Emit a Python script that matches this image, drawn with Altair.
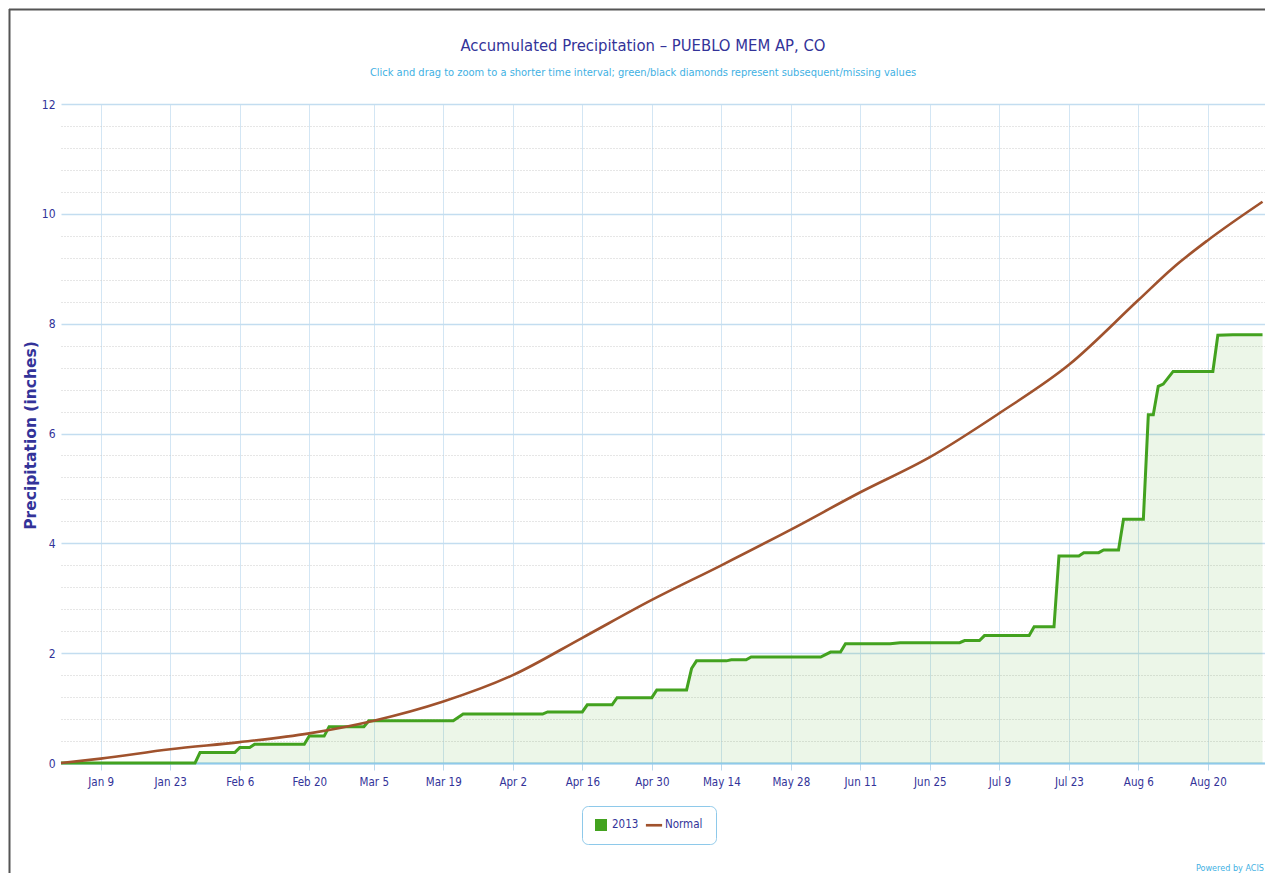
import altair as alt
import pandas as pd

# ---------------- data ----------------
obs_dates = ["2013-01-01", "2013-01-28", "2013-01-29", "2013-02-05", "2013-02-06",
             "2013-02-08", "2013-02-09", "2013-02-19", "2013-02-20", "2013-02-23",
             "2013-02-24", "2013-03-03", "2013-03-04", "2013-03-21", "2013-03-23",
             "2013-04-08", "2013-04-09", "2013-04-16", "2013-04-17", "2013-04-22",
             "2013-04-23", "2013-04-30", "2013-05-01", "2013-05-07", "2013-05-08",
             "2013-05-09", "2013-05-15", "2013-05-16", "2013-05-19", "2013-05-20",
             "2013-06-03", "2013-06-05", "2013-06-07", "2013-06-08", "2013-06-17",
             "2013-06-19", "2013-07-01", "2013-07-02", "2013-07-05", "2013-07-06",
             "2013-07-15", "2013-07-16", "2013-07-20", "2013-07-21", "2013-07-25",
             "2013-07-26", "2013-07-29", "2013-07-30", "2013-08-02", "2013-08-03",
             "2013-08-07", "2013-08-08", "2013-08-09", "2013-08-10", "2013-08-11",
             "2013-08-13", "2013-08-21", "2013-08-22", "2013-08-25", "2013-08-31"]
obs_values = [0.00, 0.00, 0.19, 0.19, 0.28,
              0.28, 0.34, 0.34, 0.49, 0.49,
              0.66, 0.66, 0.77, 0.77, 0.89,
              0.89, 0.93, 0.93, 1.06, 1.06,
              1.19, 1.19, 1.33, 1.33, 1.72,
              1.86, 1.86, 1.88, 1.88, 1.93,
              1.93, 2.02, 2.02, 2.17, 2.17,
              2.19, 2.19, 2.23, 2.23, 2.32,
              2.32, 2.48, 2.48, 3.77, 3.77,
              3.83, 3.83, 3.88, 3.88, 4.44,
              4.44, 6.34, 6.34, 6.86, 6.90,
              7.13, 7.13, 7.79, 7.80, 7.80]

normal_dates = ["2013-01-01", "2013-01-09", "2013-01-23", "2013-02-06", "2013-02-20",
                "2013-03-05", "2013-03-19", "2013-04-02", "2013-04-16", "2013-04-30",
                "2013-05-14", "2013-05-28", "2013-06-11", "2013-06-25", "2013-07-09",
                "2013-07-23", "2013-08-06", "2013-08-13", "2013-08-20", "2013-08-31"]
normal_values = [0.00, 0.08, 0.25, 0.38, 0.54,
                 0.77, 1.12, 1.60, 2.28, 2.97,
                 3.60, 4.25, 4.93, 5.57, 6.37,
                 7.25, 8.43, 9.02, 9.52, 10.22]

series_names = ["2013", "Normal"]
series_colors = ["#43a21f", "#a0522d"]

x_tick_dates = ["2013-01-09", "2013-01-23", "2013-02-06", "2013-02-20", "2013-03-05",
                "2013-03-19", "2013-04-02", "2013-04-16", "2013-04-30", "2013-05-14",
                "2013-05-28", "2013-06-11", "2013-06-25", "2013-07-09", "2013-07-23",
                "2013-08-06", "2013-08-20"]
x_domain = [(2013, 1, 1, 0), (2013, 8, 31, 12)]
y_tick_values = [round(0.4 * i, 1) for i in range(31)]

# ---------------- styling ----------------
NARROW = "'Liberation Sans Narrow', 'DejaVu Sans Condensed', 'Roboto Condensed', sans-serif"
NAVY = "#333399"
LIGHTBLUE = "#3fb1e3"


def dt(s):
    y, m, d = (int(v) for v in s.split("-"))
    return alt.DateTime(year=y, month=m, date=d, utc=True)


def dth(t):
    return alt.DateTime(year=t[0], month=t[1], date=t[2], hours=t[3], utc=True)


obs = pd.DataFrame({"date": obs_dates, "value": obs_values})
normal = pd.DataFrame({"date": normal_dates, "value": normal_values})
legend_df = pd.DataFrame({"series": series_names})

major = "datum.value % 2 == 0"

x_enc = alt.X(
    "date:T",
    scale=alt.Scale(type="utc", domain=[dth(t) for t in x_domain]),
    axis=alt.Axis(
        values=[dt(s) for s in x_tick_dates],
        tickCount=40,
        labelExpr="utcFormat(datum.value, '%b %-d')",
        title=None,
        grid=True,
        gridColor="#d3e6f4",
        gridWidth=1,
        domainColor="#8ec9ea",
        domainWidth=2,
        tickColor="#b9d9ef",
        tickSize=7,
        labelPadding=6,
        labelFont=NARROW,
        labelFontSize=11.5,
        labelColor=NAVY,
        labelFlush=False,
    ),
)

y_enc = alt.Y(
    "value:Q",
    scale=alt.Scale(domain=[0, 12], nice=False),
    axis=alt.Axis(
        values=y_tick_values,
        tickCount=40,
        labelExpr=f"{major} ? format(datum.value, 'd') : ''",
        labelOverlap=False,
        title="Precipitation (inches)",
        titleFont="DejaVu Sans",
        titleFontWeight="bold",
        titleFontSize=15.5,
        titleColor=NAVY,
        titleX=-31,
        titleY=331,
        titleAngle=270,
        titleAlign="center",
        titleBaseline="middle",
        grid=True,
        gridColor={"condition": {"test": major, "value": "#c3ddf0"}, "value": "#cccccc"},
        gridWidth={"condition": {"test": major, "value": 1.6}, "value": 1},
        gridDash={"condition": {"test": major, "value": []}, "value": [1, 2]},
        domain=False,
        ticks=False,
        labelPadding=6,
        labelFont=NARROW,
        labelFontSize=12,
        labelColor=NAVY,
        labelFlush=False,
    ),
)

area = alt.Chart(obs).mark_area(color=series_colors[0], opacity=0.1).encode(x=x_enc, y=y_enc)
obs_line = alt.Chart(obs).mark_line(color=series_colors[0], strokeWidth=3).encode(x="date:T", y="value:Q")
normal_line = alt.Chart(normal).mark_line(
    color=series_colors[1], strokeWidth=2.6, interpolate="monotone"
).encode(x="date:T", y="value:Q")

legend_props = dict(
    title=None, orient="none", direction="horizontal",
    legendX=521, legendY=702,
    strokeColor="#8ec9ea", cornerRadius=6, padding=13,
    fillColor="white",
    labelFont=NARROW, labelFontSize=11.5, labelColor=NAVY,
    symbolSize=144, symbolStrokeWidth=0, symbolOpacity=1,
    columnPadding=6, labelOffset=5,
)

legend_layer = alt.Chart(legend_df).transform_filter("false").mark_point(
    filled=True, size=144, opacity=1
).encode(
    color=alt.Color(
        "series:N",
        scale=alt.Scale(domain=series_names, range=series_colors),
        legend=alt.Legend(**legend_props),
    ),
    shape=alt.Shape(
        "series:N",
        scale=alt.Scale(domain=series_names, range=["square", "M-1.35,-0.22H1.35V0.22H-1.35Z"]),
        legend=alt.Legend(**legend_props),
    ),
)

credit = alt.Chart(pd.DataFrame({"t": ["Powered by ACIS"]})).mark_text(
    align="right", baseline="middle", font=NARROW, fontSize=9, color=LIGHTBLUE
).encode(x=alt.value(1203), y=alt.value(764), text="t:N")

frame_left = alt.Chart(pd.DataFrame({"t": [0]})).mark_rule(color="#555555", strokeWidth=2).encode(
    x=alt.value(-51.5), y=alt.value(-95), y2=alt.value(790)
)
frame_top = alt.Chart(pd.DataFrame({"t": [0]})).mark_rule(color="#555555", strokeWidth=2).encode(
    x=alt.value(-52), x2=alt.value(1215), y=alt.value(-94.5)
)

chart = alt.layer(area, obs_line, normal_line, legend_layer, credit, frame_left, frame_top).properties(
    width=1204,
    height=659,
    title=alt.Title(
        "Accumulated Precipitation – PUEBLO MEM AP, CO",
        subtitle="Click and drag to zoom to a shorter time interval; green/black diamonds represent subsequent/missing values",
        anchor="middle",
        dx=-20,
        dy=70,
        offset=0,
        font=NARROW,
        fontSize=16.5,
        fontWeight="normal",
        color=NAVY,
        subtitleFont=NARROW,
        subtitleFontSize=11,
        subtitleColor=LIGHTBLUE,
        subtitlePadding=13,
    ),
    autosize=alt.AutoSizeParams(type="none"),
    padding={"left": 53, "top": 96, "right": 0, "bottom": 110},
).configure(background="white").configure_view(stroke=None)

chart.save("out.html", embed_options={"renderer": "svg", "actions": False})
